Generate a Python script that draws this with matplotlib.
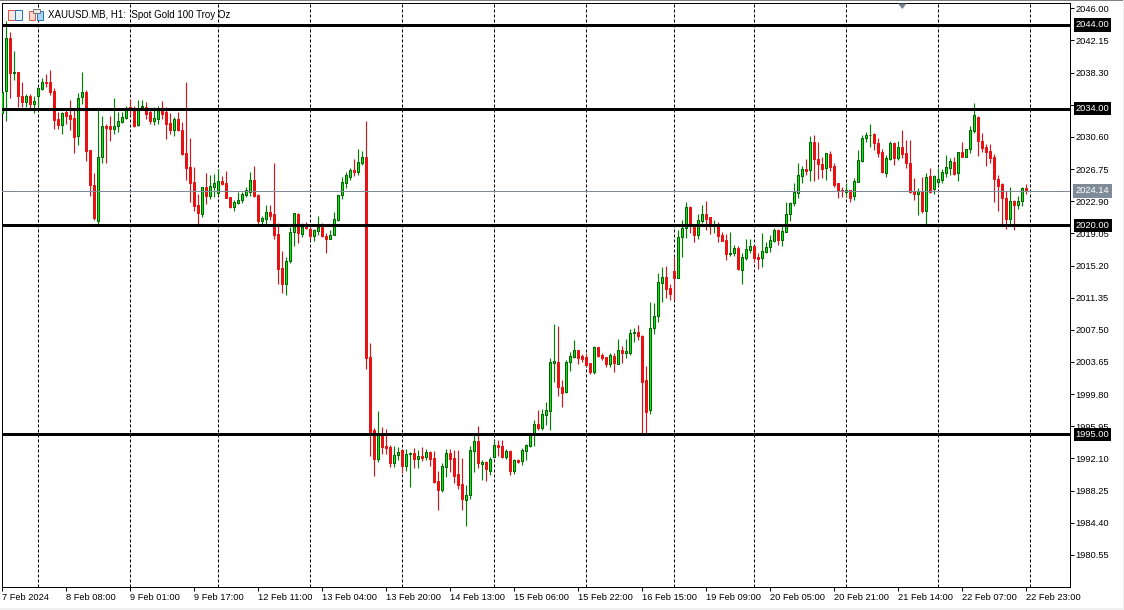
import matplotlib
matplotlib.use("Agg")
import matplotlib.pyplot as plt
from matplotlib.patches import Rectangle, Polygon
from matplotlib.transforms import IdentityTransform

plt.rcParams['font.family'] = ['Liberation Sans', 'DejaVu Sans']

# hourly candles, index 0 is 7 Feb 2024
opens = [
    2033.44, 2036.04, 2042.44, 2038.20, 2038.36, 2035.48, 2034.72, 2035.48, 2034.56, 2035.44,
    2036.32, 2037.20, 2037.16, 2036.08, 2032.72, 2032.00, 2033.64, 2033.24, 2032.88, 2030.76,
    2035.32, 2035.96, 2029.00, 2024.84, 2020.56, 2028.24, 2031.92, 2031.88, 2031.60, 2031.92,
    2032.44, 2032.84, 2034.24, 2033.92, 2032.00, 2034.16, 2034.24, 2033.64, 2032.56, 2032.80,
    2033.84, 2033.60, 2032.28, 2031.44, 2032.76, 2031.44, 2028.64, 2027.00, 2025.16, 2022.44,
    2021.36, 2024.60, 2023.52, 2024.64, 2023.92, 2025.28, 2025.04, 2023.36, 2022.24, 2022.72,
    2023.04, 2023.68, 2024.04, 2025.40, 2023.64, 2020.56, 2020.76, 2021.60, 2021.32, 2018.96,
    2014.88, 2013.04, 2015.76, 2019.24, 2021.36, 2018.96, 2019.84, 2019.60, 2018.76, 2019.36,
    2019.76, 2018.72, 2018.40, 2018.88, 2020.60, 2023.60, 2025.12, 2025.84, 2026.64, 2026.44,
    2027.52, 2028.20, 2004.26, 1995.50, 1992.06, 1995.10, 1993.58, 1993.46, 1991.58, 1992.46,
    1993.10, 1991.18, 1992.58, 1992.74, 1992.06, 1992.38, 1992.30, 1992.86, 1992.14, 1989.38,
    1988.30, 1991.10, 1992.74, 1992.14, 1990.22, 1989.02, 1987.14, 1987.74, 1993.02, 1994.18,
    1991.46, 1991.66, 1990.62, 1992.22, 1993.66, 1993.58, 1992.30, 1992.98, 1990.62, 1991.86,
    1991.82, 1993.02, 1993.62, 1995.10, 1996.22, 1995.78, 1997.34, 1997.82, 2003.58, 2003.66,
    2000.62, 2000.02, 2003.62, 2004.30, 2005.10, 2004.38, 2004.26, 2003.50, 2002.46, 2005.42,
    2004.50, 2004.22, 2003.42, 2004.38, 2003.46, 2005.06, 2004.78, 2004.78, 2007.10, 2007.26,
    2006.70, 2001.50, 1997.94, 2007.74, 2009.10, 2013.13, 2013.77, 2012.45, 2014.53, 2013.73,
    2018.65, 2019.65, 2022.17, 2019.85, 2018.89, 2020.57, 2021.33, 2020.97, 2020.01, 2019.93,
    2018.81, 2018.25, 2016.57, 2016.73, 2017.25, 2014.69, 2016.13, 2017.09, 2017.49, 2016.17,
    2016.13, 2016.85, 2017.41, 2018.09, 2019.41, 2018.25, 2019.25, 2021.33, 2022.65, 2023.93,
    2025.97, 2026.73, 2026.61, 2029.97, 2027.93, 2027.37, 2026.89, 2028.57, 2027.13, 2025.05,
    2024.25, 2023.97, 2024.21, 2023.49, 2025.25, 2027.77, 2030.41, 2030.77, 2030.93, 2029.85,
    2028.81, 2026.33, 2027.93, 2029.85, 2028.09, 2029.37, 2028.64, 2027.44, 2024.08, 2023.80,
    2024.16, 2021.76, 2025.92, 2024.40, 2025.24, 2025.44, 2026.32, 2026.92, 2027.60, 2026.24,
    2028.76, 2028.24, 2029.20, 2031.32, 2033.00, 2030.12, 2029.36, 2028.88, 2028.20, 2025.56,
    2024.96, 2023.24, 2020.80, 2022.92, 2022.44, 2022.92, 2024.44,
]
highs = [
    2036.00, 2044.48, 2043.16, 2040.92, 2038.36, 2037.16, 2035.72, 2035.72, 2035.44, 2036.56,
    2037.64, 2038.16, 2038.64, 2036.48, 2033.64, 2033.64, 2033.92, 2035.04, 2033.84, 2035.84,
    2038.36, 2036.24, 2029.04, 2026.24, 2033.84, 2033.12, 2032.16, 2033.12, 2035.24, 2033.64,
    2033.64, 2034.32, 2035.12, 2034.32, 2035.04, 2035.04, 2034.72, 2033.92, 2034.16, 2034.32,
    2034.92, 2034.16, 2033.52, 2033.04, 2033.60, 2032.44, 2037.16, 2030.48, 2027.04, 2023.76,
    2024.64, 2026.24, 2026.04, 2026.16, 2026.76, 2025.92, 2026.52, 2023.44, 2023.04, 2024.04,
    2024.04, 2024.64, 2026.36, 2027.12, 2023.72, 2021.12, 2022.44, 2022.44, 2027.44, 2020.24,
    2016.96, 2016.24, 2019.76, 2021.44, 2021.44, 2020.24, 2020.44, 2020.16, 2019.52, 2021.12,
    2020.24, 2019.04, 2019.44, 2021.64, 2023.64, 2025.84, 2026.44, 2026.84, 2027.92, 2029.12,
    2028.96, 2032.52, 2005.94, 1995.70, 1997.78, 1995.86, 1995.62, 1993.70, 1993.58, 1993.46,
    1993.22, 1993.22, 1992.86, 1993.34, 1993.10, 1993.50, 1993.22, 1992.98, 1993.02, 1990.62,
    1991.50, 1993.22, 1993.22, 1993.14, 1993.10, 1992.14, 1988.90, 1993.58, 1995.02, 1995.98,
    1991.90, 1991.78, 1992.22, 1994.30, 1994.30, 1994.30, 1993.22, 1993.10, 1991.98, 1992.06,
    1993.34, 1993.78, 1995.18, 1996.70, 1997.90, 1997.98, 1998.90, 2004.10, 2008.22, 2007.98,
    2001.50, 2003.90, 2004.90, 2006.30, 2005.10, 2004.62, 2004.78, 2003.58, 2005.58, 2005.50,
    2004.78, 2004.30, 2004.70, 2004.70, 2006.42, 2005.58, 2006.42, 2007.62, 2007.70, 2008.10,
    2006.90, 2003.18, 2010.85, 2010.77, 2014.33, 2015.01, 2015.13, 2012.93, 2016.25, 2019.45,
    2020.65, 2022.77, 2022.33, 2020.05, 2021.37, 2022.45, 2022.93, 2021.05, 2020.65, 2020.41,
    2019.25, 2018.97, 2019.21, 2017.65, 2017.53, 2016.65, 2018.37, 2018.33, 2017.53, 2016.73,
    2019.05, 2018.05, 2018.85, 2019.65, 2019.61, 2020.13, 2022.85, 2022.85, 2025.05, 2027.45,
    2027.13, 2027.93, 2030.73, 2030.85, 2029.97, 2028.17, 2028.73, 2028.93, 2027.53, 2025.05,
    2024.57, 2025.05, 2024.25, 2025.65, 2029.05, 2030.85, 2031.17, 2032.17, 2031.05, 2030.45,
    2029.13, 2028.45, 2030.05, 2030.01, 2030.05, 2031.45, 2030.24, 2030.24, 2025.72, 2024.44,
    2025.84, 2026.32, 2026.84, 2026.04, 2026.92, 2026.72, 2028.44, 2028.12, 2028.24, 2028.76,
    2030.04, 2029.16, 2031.92, 2034.64, 2033.12, 2031.04, 2029.76, 2029.76, 2028.52, 2026.04,
    2025.12, 2024.16, 2024.56, 2023.04, 2023.52, 2024.56, 2024.96,
]
lows = [
    2033.44, 2032.56, 2035.20, 2037.44, 2034.16, 2034.16, 2034.16, 2034.04, 2033.52, 2034.16,
    2036.16, 2036.56, 2035.64, 2031.56, 2031.56, 2030.96, 2032.16, 2031.44, 2028.72, 2029.64,
    2034.56, 2027.72, 2023.52, 2020.64, 2020.16, 2027.44, 2027.44, 2030.16, 2030.96, 2031.24,
    2032.32, 2032.80, 2033.24, 2031.76, 2031.92, 2034.04, 2032.76, 2032.16, 2032.04, 2032.16,
    2032.80, 2030.36, 2030.96, 2030.72, 2031.36, 2028.44, 2025.44, 2022.84, 2021.76, 2020.16,
    2020.96, 2022.56, 2023.12, 2023.44, 2023.64, 2024.84, 2023.24, 2022.12, 2021.76, 2022.56,
    2022.72, 2023.44, 2023.52, 2023.44, 2020.16, 2020.16, 2020.16, 2020.64, 2018.32, 2012.96,
    2011.92, 2011.68, 2015.56, 2017.52, 2017.92, 2018.64, 2019.56, 2018.24, 2018.16, 2018.84,
    2018.64, 2016.64, 2018.32, 2018.84, 2020.56, 2023.12, 2024.44, 2025.44, 2025.96, 2026.04,
    2027.24, 2002.82, 1992.38, 1989.98, 1991.66, 1992.62, 1992.62, 1991.10, 1991.10, 1991.90,
    1990.38, 1990.62, 1988.70, 1990.94, 1990.94, 1991.78, 1991.90, 1991.22, 1989.10, 1985.90,
    1988.10, 1989.90, 1990.50, 1989.10, 1988.38, 1985.90, 1983.98, 1987.22, 1990.46, 1990.98,
    1989.50, 1989.42, 1990.14, 1992.14, 1992.38, 1992.14, 1991.98, 1990.10, 1990.22, 1991.54,
    1991.34, 1991.90, 1993.50, 1993.58, 1995.50, 1995.50, 1996.10, 1995.50, 2001.30, 1999.58,
    1998.30, 1999.98, 2002.58, 2004.14, 2003.42, 2003.66, 2003.18, 2002.22, 2002.22, 2004.30,
    2003.90, 2003.10, 2003.02, 2002.46, 2003.42, 2003.50, 2004.10, 2004.50, 2006.10, 2006.30,
    1995.10, 1995.10, 1997.42, 2007.02, 2008.46, 2010.85, 2011.25, 2011.05, 2011.05, 2013.73,
    2016.25, 2018.45, 2019.05, 2018.05, 2018.41, 2020.33, 2019.45, 2018.93, 2019.13, 2018.05,
    2018.13, 2015.85, 2016.33, 2016.37, 2014.65, 2012.97, 2015.85, 2016.65, 2015.61, 2014.81,
    2015.01, 2016.65, 2016.85, 2018.05, 2017.61, 2017.57, 2019.17, 2020.57, 2022.33, 2023.25,
    2025.13, 2026.05, 2025.37, 2025.37, 2025.57, 2025.65, 2025.45, 2026.57, 2024.65, 2023.33,
    2023.45, 2023.45, 2022.85, 2023.05, 2025.21, 2027.65, 2029.93, 2029.37, 2029.05, 2028.25,
    2026.25, 2025.85, 2027.85, 2027.25, 2027.85, 2028.05, 2026.84, 2023.84, 2023.04, 2021.24,
    2021.44, 2020.16, 2023.92, 2023.76, 2024.72, 2025.04, 2025.84, 2026.04, 2026.04, 2025.32,
    2028.24, 2028.16, 2028.72, 2031.04, 2028.32, 2028.84, 2027.16, 2027.52, 2022.84, 2021.76,
    2020.04, 2019.60, 2020.16, 2019.44, 2021.96, 2022.36, 2023.76,
]
closes = [
    2036.00, 2042.44, 2038.20, 2038.36, 2035.44, 2034.72, 2035.48, 2034.56, 2034.88, 2036.44,
    2037.16, 2037.08, 2035.92, 2032.64, 2032.04, 2033.44, 2033.12, 2032.76, 2030.64, 2035.24,
    2035.96, 2028.96, 2024.88, 2020.88, 2028.16, 2031.88, 2031.72, 2031.56, 2031.88, 2032.48,
    2032.96, 2034.04, 2034.00, 2031.92, 2033.92, 2034.32, 2033.36, 2032.56, 2032.84, 2033.84,
    2033.36, 2032.16, 2031.44, 2032.76, 2031.44, 2028.56, 2026.88, 2025.12, 2022.36, 2021.44,
    2024.56, 2023.52, 2024.72, 2025.04, 2025.28, 2024.96, 2023.32, 2022.24, 2022.80, 2023.04,
    2023.76, 2024.24, 2025.40, 2023.56, 2020.56, 2020.88, 2021.56, 2021.12, 2018.84, 2014.80,
    2013.04, 2015.80, 2019.16, 2021.44, 2019.04, 2019.84, 2019.68, 2018.72, 2019.40, 2019.84,
    2018.72, 2018.40, 2018.84, 2020.72, 2023.60, 2025.16, 2026.04, 2026.64, 2026.44, 2027.56,
    2028.16, 2004.18, 1995.26, 1992.06, 1995.10, 1993.46, 1993.34, 1991.58, 1992.46, 1992.86,
    1991.18, 1992.62, 1992.74, 1992.06, 1992.38, 1992.14, 1992.86, 1992.06, 1989.26, 1988.30,
    1991.18, 1992.74, 1992.06, 1990.02, 1988.94, 1987.22, 1987.78, 1993.06, 1994.14, 1991.58,
    1991.66, 1990.86, 1991.98, 1993.66, 1993.46, 1992.30, 1992.94, 1990.62, 1991.90, 1991.66,
    1993.06, 1993.66, 1994.98, 1996.18, 1995.74, 1997.42, 1997.86, 2003.62, 2003.74, 2000.70,
    1999.98, 2003.62, 2004.34, 2005.10, 2004.14, 2004.06, 2003.34, 2002.46, 2005.42, 2004.38,
    2004.14, 2003.42, 2004.50, 2003.58, 2005.06, 2004.78, 2004.94, 2007.14, 2007.18, 2006.70,
    2001.30, 1997.70, 2007.70, 2009.18, 2013.17, 2013.77, 2012.41, 2011.73, 2013.73, 2018.65,
    2019.69, 2022.17, 2019.93, 2018.89, 2020.61, 2021.33, 2020.81, 2020.05, 2020.17, 2018.77,
    2018.17, 2016.61, 2016.69, 2017.25, 2014.77, 2016.17, 2017.13, 2017.49, 2016.13, 2016.01,
    2016.89, 2017.37, 2018.21, 2019.41, 2018.25, 2019.29, 2021.33, 2022.65, 2024.01, 2026.01,
    2026.73, 2026.57, 2029.97, 2028.01, 2027.41, 2026.81, 2028.65, 2027.05, 2024.89, 2024.13,
    2024.09, 2024.21, 2023.33, 2025.29, 2027.81, 2030.45, 2030.81, 2030.85, 2029.85, 2028.73,
    2026.45, 2028.05, 2029.85, 2028.13, 2029.37, 2028.61, 2027.44, 2024.00, 2023.76, 2024.12,
    2021.76, 2025.84, 2024.00, 2025.92, 2025.52, 2026.40, 2026.96, 2027.72, 2026.16, 2028.76,
    2028.20, 2029.16, 2031.40, 2033.20, 2030.16, 2029.28, 2028.80, 2028.08, 2025.56, 2024.76,
    2023.24, 2020.80, 2022.92, 2022.44, 2022.92, 2024.44, 2024.14,
]

date_labels = ["7 Feb 2024", "8 Feb 08:00", "9 Feb 01:00", "9 Feb 17:00", "12 Feb 11:00",
               "13 Feb 04:00", "13 Feb 20:00", "14 Feb 13:00", "15 Feb 06:00", "15 Feb 22:00",
               "16 Feb 15:00", "19 Feb 09:00", "20 Feb 05:00", "20 Feb 21:00", "21 Feb 14:00",
               "22 Feb 07:00", "22 Feb 23:00"]
date_ticks = [i * 16 for i in range(len(date_labels))]
day_starts = [9, 32, 54, 77, 100, 123, 146, 168, 188, 211, 234, 257]
price_ticks = [2046.00, 2042.15, 2038.30, 2034.45, 2030.60, 2026.75, 2022.90, 2019.05, 2015.20,
               2011.35, 2007.50, 2003.65, 1999.80, 1995.95, 1992.10, 1988.25, 1984.40, 1980.55]
levels = [2044.00, 2034.00, 2020.00, 1995.00]
last_price = 2024.14
title = "XAUUSD.MB, H1:  Spot Gold 100 Troy Oz"

W, H = 1124, 610
PX = 0.72  # one pixel in points at dpi 100
FONT = 6.7

fig = plt.figure(figsize=(W / 100, H / 100), dpi=100, facecolor="white")
ax = fig.add_axes([1.5 / W, (H - 587.2) / H, 1068 / W, 584 / H])
ax.set_xlim(0, 267)
ax.set_ylim(1976.68, 2046.61)
for s in ax.spines.values():
    s.set_linewidth(PX)

# day separators
ax.vlines(day_starts, 1976.68, 2046.61, color="black", lw=PX, linestyles=(0, (3, 2)), zorder=1)

# candles
up = [c >= o for o, c in zip(opens, closes)]
for i in range(len(opens)):
    wick = "#008000" if up[i] else "#d01818"
    ax.vlines(i, lows[i], highs[i], color=wick, lw=PX * 1.15, zorder=2)
    bot, top = min(opens[i], closes[i]), max(opens[i], closes[i])
    if up[i]:
        ax.bar(i, top - bot, 0.5, bot, facecolor="#00f000", edgecolor="#006000", linewidth=PX, zorder=3)
    else:
        ax.bar(i, top - bot, 0.5, bot, facecolor="#e81212", edgecolor="#e81212", linewidth=PX, zorder=3)

# price levels and last price
ax.axhline(last_price, color="#7f8b98", lw=PX, zorder=4)
for lv in levels:
    ax.axhline(lv, color="black", lw=3 * PX, zorder=5)

ax.yaxis.tick_right()
ax.set_yticks(price_ticks)
ax.set_yticklabels([f"{p:.2f}" for p in price_ticks])
ax.tick_params(axis="y", length=4 * PX, width=PX, pad=1.6, labelsize=FONT)
ax.set_xticks(date_ticks)
ax.set_xticklabels(date_labels, ha="left")
ax.tick_params(axis="x", length=4 * PX, width=PX, pad=1.2, labelsize=FONT)

trans = ax.get_yaxis_transform()
for lv in levels:
    ax.text(1.0057, lv, f"{lv:.2f}", transform=trans, color="white", fontsize=FONT, va="center", ha="left",
            clip_on=False, zorder=6, bbox=dict(boxstyle="square,pad=0.22", facecolor="black", edgecolor="black", linewidth=0))
ax.text(1.0057, last_price, f"{last_price:.2f}", transform=trans, color="white", fontsize=FONT, va="center",
        ha="left", clip_on=False, zorder=6,
        bbox=dict(boxstyle="square,pad=0.3", facecolor="#7f8b98", edgecolor="#7f8b98", linewidth=0))

fig.text(48 / W, (H - 14.8) / H, title, fontsize=7.0, va="center", ha="left", color="black")


def px_rect(x0, y0, x1, y1, **kw):
    # rectangle in screen pixels, y counted from the top
    r = Rectangle((x0, H - y1), x1 - x0, y1 - y0, transform=IdentityTransform(), **kw)
    fig.add_artist(r)


# window edges
px_rect(0, 0, W, 1.2, facecolor="#808080", linewidth=0)
px_rect(0, 608, W, H, facecolor="#f0f0f0", linewidth=0)
px_rect(1123, 0, W, H, facecolor="#f0f0f0", linewidth=0)

# toolbar icons
px_rect(7.5, 9.5, 14.5, 19.5, facecolor="#fbe5e0", edgecolor="#e0554a", linewidth=PX)
px_rect(14.5, 9.5, 21.5, 19.5, facecolor="#e4f0fa", edgecolor="#2a78b8", linewidth=PX)
for yy in [12.5, 14.5, 16.5]:
    px_rect(9, yy, 13.5, yy + 0.8, facecolor="#e0554a", linewidth=0)
    px_rect(15.5, yy, 20, yy + 0.8, facecolor="#2a78b8", linewidth=0)
px_rect(28.5, 10.5, 35, 19.5, facecolor="#fbd9d0", edgecolor="#e0554a", linewidth=PX)
px_rect(36.5, 10.5, 42.5, 19.5, facecolor="#a9d3f2", edgecolor="#2a78b8", linewidth=PX)
px_rect(33, 9, 39.5, 13, facecolor="#e8e8e8", edgecolor="#777777", linewidth=PX)

# scroll marker on the top edge
fig.add_artist(Polygon([(898, H - 3.5), (906.5, H - 3.5), (902.3, H - 9)], closed=True, transform=IdentityTransform(),
                       facecolor="#708090", linewidth=0))

fig.savefig("out.png", dpi=100)
